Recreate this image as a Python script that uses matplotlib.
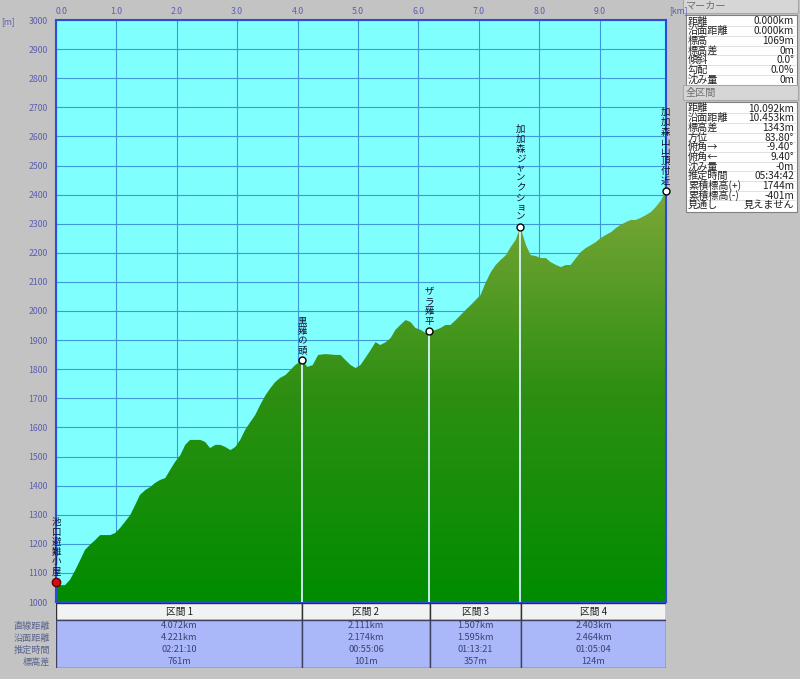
import numpy as np
import matplotlib.pyplot as plt
from matplotlib.colors import LinearSegmentedColormap
from matplotlib.patches import Rectangle, Polygon

plt.rcParams['font.family'] = ['Noto Sans CJK JP', 'DejaVu Sans']

# elevation profile
dist_km = [0.00, 0.07, 0.15, 0.23, 0.32, 0.40, 0.48, 0.56, 0.65, 0.73, 0.90, 0.98,
           1.06, 1.14, 1.23, 1.31, 1.39, 1.48, 1.56, 1.64, 1.72, 1.81, 1.89, 1.97,
           2.06, 2.14, 2.22, 2.31, 2.39, 2.47, 2.55, 2.64, 2.72, 2.80, 2.89, 2.97,
           3.05, 3.13, 3.22, 3.30, 3.38, 3.47, 3.55, 3.63, 3.71, 3.80, 3.88, 3.96,
           4.072, 4.10, 4.16, 4.25, 4.34, 4.46, 4.63, 4.71, 4.79, 4.88, 4.96, 5.04,
           5.12, 5.21, 5.29, 5.37, 5.46, 5.54, 5.62, 5.70, 5.79, 5.87, 5.95, 6.04,
           6.12, 6.183, 6.29, 6.37, 6.45, 6.53, 6.62, 6.70, 6.78, 6.87, 6.95, 7.03,
           7.11, 7.20, 7.28, 7.36, 7.45, 7.53, 7.61, 7.690, 7.78, 7.86, 7.94, 8.03,
           8.11, 8.19, 8.28, 8.36, 8.44, 8.52, 8.61, 8.69, 8.77, 8.86, 8.94, 9.02,
           9.10, 9.19, 9.27, 9.35, 9.44, 9.52, 9.60, 9.68, 9.77, 9.85, 9.93, 10.02,
           10.092]
elev_m = [1069, 1058, 1058, 1076, 1110, 1144, 1179, 1196, 1213, 1230, 1230, 1237,
          1254, 1275, 1299, 1333, 1368, 1385, 1395, 1409, 1419, 1426, 1454, 1481,
          1505, 1540, 1557, 1557, 1557, 1550, 1529, 1540, 1540, 1533, 1522, 1533,
          1557, 1591, 1619, 1643, 1677, 1711, 1735, 1756, 1770, 1780, 1797, 1814,
          1830, 1825, 1808, 1814, 1849, 1852, 1849, 1849, 1832, 1814, 1804, 1814,
          1838, 1866, 1893, 1883, 1893, 1907, 1935, 1952, 1969, 1962, 1942, 1935,
          1924, 1931, 1935, 1942, 1952, 1952, 1969, 1986, 2003, 2021, 2038, 2055,
          2096, 2134, 2158, 2175, 2192, 2220, 2244, 2288, 2227, 2192, 2189, 2182,
          2182, 2168, 2158, 2151, 2158, 2158, 2182, 2203, 2216, 2227, 2237, 2251,
          2261, 2271, 2285, 2296, 2306, 2313, 2313, 2320, 2330, 2340, 2357, 2381,
          2412]

marker_names = ["池口避難小屋", "黒薙の頭", "ザラ薙平", "加加森ジャンクション", "加加森山山頂付近"]
marker_km = [0.0, 4.072, 6.183, 7.690, 10.092]
marker_elev = [1069, 1830, 1931, 2288, 2412]

section_names = ["区間 1", "区間 2", "区間 3", "区間 4"]
row_labels = ["直線距離", "沿面距離", "推定時間", "標高差"]
straight_dist = ["4.072km", "2.111km", "1.507km", "2.403km"]
surface_dist = ["4.221km", "2.174km", "1.595km", "2.464km"]
est_time = ["02:21:10", "00:55:06", "01:13:21", "01:05:04"]
elev_diff = ["761m", "101m", "357m", "124m"]

marker_labels = ["距離", "沿面距離", "標高", "標高差", "傾斜", "勾配", "沈み量"]
marker_values = ["0.000km", "0.000km", "1069m", "0m", "0.0°", "0.0%", "0m"]
total_labels = ["距離", "沿面距離", "標高差", "方位", "俯角→", "俯角←", "沈み量",
                "推定時間", "累積標高(+)", "累積標高(-)", "見通し"]
total_values = ["10.092km", "10.453km", "1343m", "83.80°", "-9.40°", "9.40°", "-0m",
                "05:34:42", "1744m", "-401m", "見えません"]

W, H = 800, 679
fig = plt.figure(figsize=(W / 100, H / 100), dpi=100, facecolor='#c3c3c3')

tick_col = '#5b5fb0'
x_max = 10.10

# main profile axes
ax = fig.add_axes([56 / W, 1 - 602 / H, 610 / W, 582 / H])
ax.set_facecolor('#80ffff')
ax.set_axisbelow(True)
ax.grid(color='#3c9ad8', lw=0.8)
for s in ax.spines.values():
    s.set_color('#2a4cd8')
    s.set_linewidth(1.5)

poly = Polygon(list(zip(dist_km, elev_m)) + [(dist_km[-1], 1000), (0, 1000)],
               closed=True, facecolor='none', edgecolor='none')
ax.add_patch(poly)
cmap = LinearSegmentedColormap.from_list('hill', ['#008c00', '#2e8f12', '#80a83a'])
grad = np.linspace(0, 1, 256).reshape(-1, 1)
im = ax.imshow(grad, extent=[0, x_max, 1000, 2450], origin='lower', aspect='auto',
               cmap=cmap, zorder=2)
im.set_clip_path(poly)

ax.vlines(marker_km[1:4], 1000, marker_elev[1:4], color='#d8f4ff', lw=1.3, zorder=3)
ax.plot(marker_km[1:], marker_elev[1:], 'o', mfc='white', mec='black', ms=5,
        mew=1, zorder=5, clip_on=False)
ax.plot(marker_km[0], marker_elev[0], 'o', mfc='#d01010', mec='#600000', ms=6,
        zorder=5, clip_on=False)

# vertical labels: one character per line
for name, km, el in zip(marker_names, marker_km, marker_elev):
    ax.annotate('\n'.join(name), xy=(km, el), xytext=(0, 4), textcoords='offset points',
                ha='center', va='bottom', fontsize=6.8, linespacing=1.1,
                color='#101030', zorder=6, annotation_clip=False)

ax.set_xlim(0, x_max)
ax.set_ylim(1000, 3000)
ax.xaxis.tick_top()
ax.set_xticks(range(0, 10))
ax.set_xticklabels([f"{v:.1f}" for v in range(0, 10)])
ax.get_xticklabels()[0].set_ha('left')
ax.set_yticks(range(1000, 3001, 100))
ax.tick_params(axis='both', length=0, labelsize=6.3, labelcolor=tick_col)
ax.tick_params(axis='x', pad=3)
ax.tick_params(axis='y', pad=6)

# section table
tax = fig.add_axes([56 / W, 1 - 668 / H, 610 / W, 65 / H])
tax.set_xlim(0, marker_km[-1])
tax.set_ylim(65, 0)
tax.axis('off')
rows = [straight_dist, surface_dist, est_time, elev_diff]
for i, sec in enumerate(section_names):
    x0, x1 = marker_km[i], marker_km[i + 1]
    tax.add_patch(Rectangle((x0, 0), x1 - x0, 17, facecolor='#f2f2f2',
                            edgecolor='#303030', lw=1))
    tax.add_patch(Rectangle((x0, 17), x1 - x0, 48, facecolor='#aab8fa',
                            edgecolor='#404060', lw=1))
    xc = (x0 + x1) / 2
    tax.text(xc, 9, sec, ha='center', va='center', fontsize=7, color='#202020')
    for r, vals in enumerate(rows):
        tax.text(xc, 23 + 12 * r, vals[i], ha='center', va='center', fontsize=6.6,
                 color='#3a4270')

# overlay in pixel units for loose texts and the side panel
pax = fig.add_axes([0, 0, 1, 1])
pax.set_xlim(0, W)
pax.set_ylim(H, 0)
pax.axis('off')
pax.text(8, 22, "[m]", ha='center', va='center', fontsize=6.3, color=tick_col)
pax.text(669, 11, "[km]", ha='left', va='center', fontsize=6.3, color=tick_col)
for r, lab in enumerate(row_labels):
    pax.text(50, 626 + 12 * r, lab, ha='right', va='center', fontsize=6.6, color='#5b6590')


def info_box(title, top, labels, values):
    pax.add_patch(Rectangle((683, top - 12), 115, 15, facecolor='#d6d6d6',
                            edgecolor='#a8a8a8', lw=0.8))
    pax.text(686, top - 4.5, title, ha='left', va='center', fontsize=7.3, color='#707070')
    n = len(labels)
    y0 = top + 5
    pax.add_patch(Rectangle((686, y0), 111, n * 9.67 + 4, facecolor='white',
                            edgecolor='#808080', lw=0.8))
    for k, (lab, val) in enumerate(zip(labels, values)):
        yc = y0 + 6.5 + k * 9.67
        pax.text(688, yc, lab, ha='left', va='center', fontsize=7.3, color='#202020')
        pax.text(794, yc, val, ha='right', va='center', fontsize=7.3, color='#202020')
        if k < n - 1:
            pax.plot([688, 795], [yc + 4.8, yc + 4.8], color='#dcdcdc', lw=0.6)


info_box("マーカー", 10, marker_labels, marker_values)
info_box("全区間", 97, total_labels, total_values)

fig.savefig('out.png', dpi=100, facecolor=fig.get_facecolor())
